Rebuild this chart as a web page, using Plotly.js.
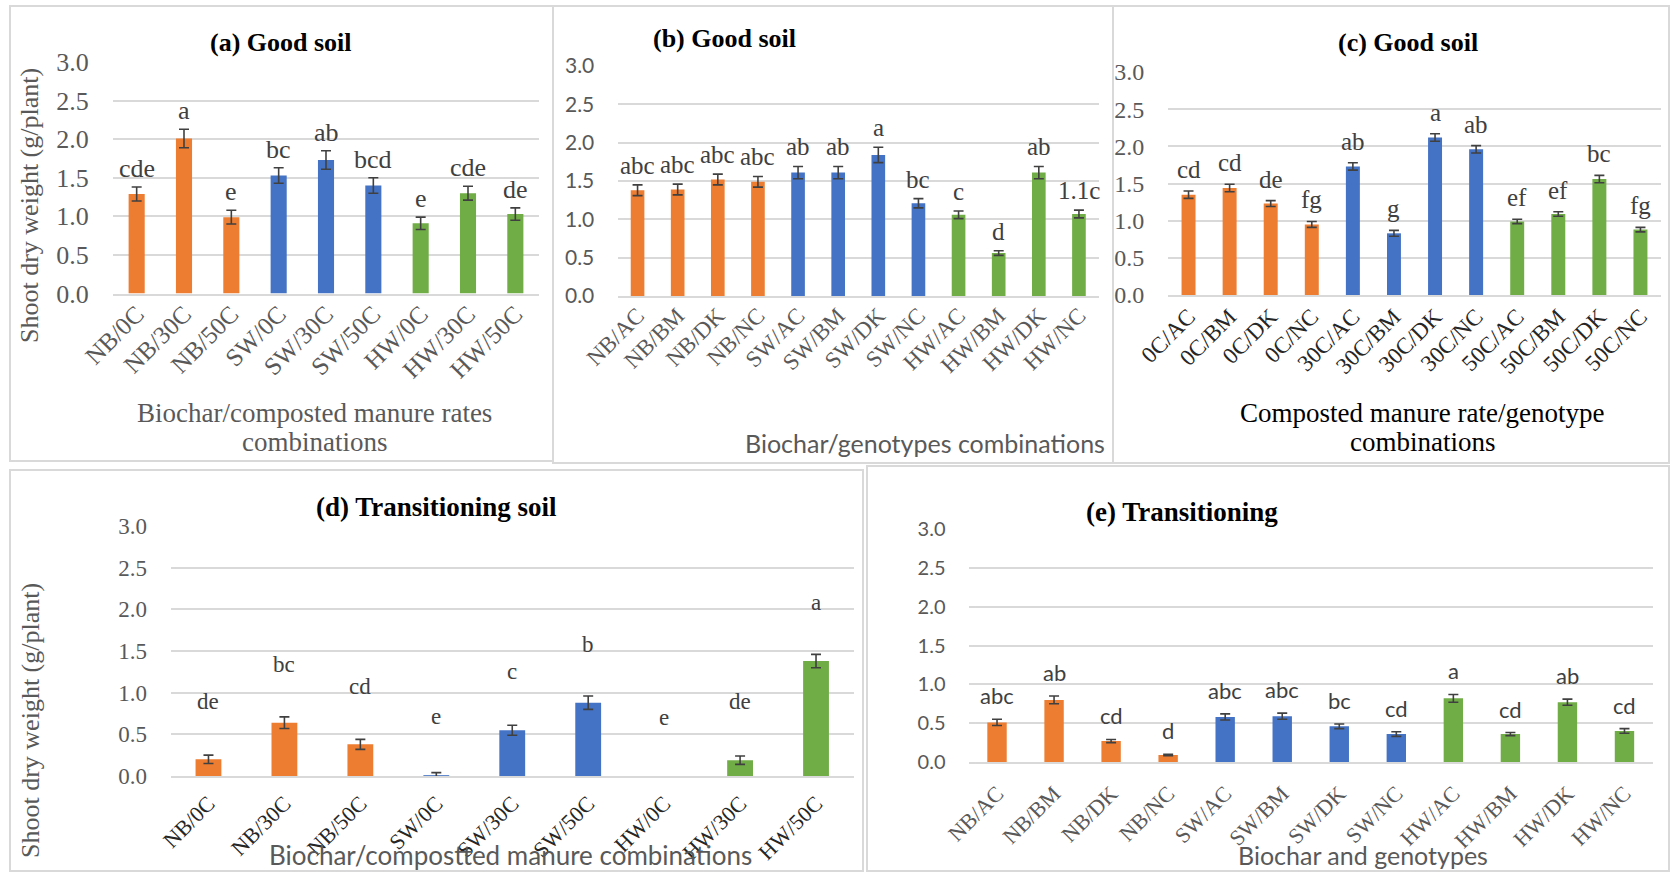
<!DOCTYPE html>
<html>
<head>
<meta charset="utf-8">
<script src="https://cdn.plot.ly/plotly-3.0.1.min.js"></script>
<style>html,body{margin:0;padding:0;background:#fff;}#chart{width:1670px;height:872px;}</style>
</head>
<body>
<div id="chart"></div>
<script>
// ---------- DATA ----------
const catsA = ['NB/0C','NB/30C','NB/50C','SW/0C','SW/30C','SW/50C','HW/0C','HW/30C','HW/50C'];
const valsA = [1.29,2.01,0.99,1.53,1.73,1.40,0.91,1.30,1.03];
const errA  = [0.09,0.12,0.09,0.10,0.12,0.10,0.08,0.09,0.08];
const letA  = ['cde','a','e','bc','ab','bcd','e','cde','de'];

const catsB = ['NB/AC','NB/BM','NB/DK','NB/NC','SW/AC','SW/BM','SW/DK','SW/NC','HW/AC','HW/BM','HW/DK','HW/NC'];
const valsB = [1.38,1.39,1.52,1.49,1.61,1.61,1.84,1.21,1.06,0.56,1.61,1.07];
const errB  = [0.07,0.07,0.07,0.07,0.08,0.08,0.10,0.06,0.05,0.03,0.08,0.05];
const letB  = ['abc','abc','abc','abc','ab','ab','a','bc','c','d','ab','1.1c'];

const catsC = ['0C/AC','0C/BM','0C/DK','0C/NC','30C/AC','30C/BM','30C/DK','30C/NC','50C/AC','50C/BM','50C/DK','50C/NC'];
const valsC = [1.35,1.44,1.23,0.95,1.73,0.83,2.12,1.96,0.99,1.09,1.56,0.88];
const errC  = [0.05,0.05,0.04,0.04,0.05,0.04,0.05,0.05,0.03,0.03,0.05,0.03];
const letC  = ['cd','cd','de','fg','ab','g','a','ab','ef','ef','bc','fg'];

const catsD = ['NB/0C','NB/30C','NB/50C','SW/0C','SW/30C','SW/50C','HW/0C','HW/30C','HW/50C'];
const valsD = [0.20,0.64,0.38,0.01,0.55,0.88,0,0.19,1.38];
const errD  = [0.05,0.07,0.06,0.03,0.06,0.08,NaN,0.05,0.08];
const letD  = ['de','bc','cd','e','c','b','e','de','a'];

const catsE = ['NB/AC','NB/BM','NB/DK','NB/NC','SW/AC','SW/BM','SW/DK','SW/NC','HW/AC','HW/BM','HW/DK','HW/NC'];
const valsE = [0.51,0.80,0.27,0.09,0.58,0.59,0.46,0.36,0.82,0.36,0.77,0.40];
const errE  = [0.04,0.05,0.02,0.01,0.04,0.04,0.03,0.03,0.05,0.02,0.04,0.03];
const letE  = ['abc','ab','cd','d','abc','abc','bc','cd','a','cd','ab','cd'];

const yTicks = [0,0.5,1.0,1.5,2.0,2.5,3.0];

// ---------- STYLE ----------
const W = 1670, H = 872;
const groupColors = ['#ED7D31','#4472C4','#70AD47'];
const SERIF = '"Liberation Serif","Times New Roman",serif';
const SANS = 'Lato,"Open Sans",sans-serif';
const GRID = '#d9d9d9';
const px = x => x / W;
const py = y => 1 - y / H;

const panels = [
  {id:'', cats:catsA, vals:valsA, err:errA, let:letA, x0:113, x1:539, yb:293.5, yt:62,
   xfont:{family:SERIF,size:25,color:'#595959'}, yfont:{family:SERIF,size:26,color:'#595959'},
   lfont:{family:SERIF,size:26,color:'#404040'}, lshift:2, xstand:-6},
  {id:'2', cats:catsB, vals:valsB, err:errB, let:letB, x0:617.5, x1:1099, yb:296, yt:66,
   xfont:{family:SERIF,size:23,color:'#595959'}, yfont:{family:SANS,size:21,color:'#595959'},
   lfont:{family:SERIF,size:25,color:'#404040'}, lshift:4, xstand:-5},
  {id:'3', cats:catsC, vals:valsC, err:errC, let:letC, x0:1168, x1:1661, yb:295, yt:72,
   xfont:{family:SERIF,size:23,color:'#262626'}, yfont:{family:SERIF,size:24,color:'#595959'},
   lfont:{family:SERIF,size:25,color:'#404040'}, lshift:6, xstand:-3},
  {id:'4', cats:catsD, vals:valsD, err:errD, let:letD, x0:170.5, x1:854, yb:776, yt:526,
   xfont:{family:SERIF,size:22,color:'#262626'}, yfont:{family:SERIF,size:23,color:'#595959'},
   lfont:{family:SERIF,size:23,color:'#404040'}, floatOffset:0.70, xstand:4},
  {id:'5', cats:catsE, vals:valsE, err:errE, let:letE, x0:968.5, x1:1653, yb:762, yt:529,
   xfont:{family:SERIF,size:22,color:'#595959'}, yfont:{family:SANS,size:20,color:'#595959'},
   lfont:{family:SANS,size:22,color:'#404040'}, lshift:8, xstand:8}
];

const data = [];
const layout = {
  width: W, height: H, margin:{l:0,r:0,t:0,b:0}, paper_bgcolor:'#fff', plot_bgcolor:'rgba(0,0,0,0)',
  showlegend:false, annotations:[], shapes:[]
};

panels.forEach(p => {
  const n = p.cats.length;
  const colors = p.cats.map((c,i) => groupColors[Math.floor(i / (n/3))]);
  data.push({
    type:'bar', x:p.cats, y:p.vals, xaxis:'x'+p.id, yaxis:'y'+p.id,
    marker:{color:colors, line:{width:0}}, width:0.34,
    error_y:{type:'data', array:p.err, visible:true, color:'#404040', thickness:1.6, width:5},
    hoverinfo:'x+y'
  });
  layout['xaxis'+p.id] = {
    domain:[px(p.x0), px(p.x1)], anchor:'y'+p.id, type:'category', range:[-0.5, n-0.5],
    showline:true, linecolor:GRID, linewidth:2, showgrid:false, zeroline:false,
    tickangle:-45, ticks:'', ticklabelstandoff:p.xstand,
    tickfont:p.xfont, fixedrange:true
  };
  layout['yaxis'+p.id] = {
    domain:[py(p.yb), py(p.yt)], anchor:'x'+p.id, range:[0, 3.001],
    tickvals:yTicks, ticktext:yTicks.map(v=>v.toFixed(1)),
    showgrid:true, gridcolor:GRID, gridwidth:2, zeroline:false, showline:false,
    ticks:'outside', ticklen:18, tickcolor:'rgba(0,0,0,0)', tickfont:p.yfont, fixedrange:true
  };
  p.cats.forEach((c,i) => {
    const e = isNaN(p.err[i]) ? 0 : p.err[i];
    if (p.floatOffset !== undefined) {
      layout.annotations.push({xref:'x'+p.id, yref:'y'+p.id, x:c, y:p.vals[i]+p.floatOffset,
        text:p.let[i], showarrow:false, yanchor:'middle', xanchor:'center', font:p.lfont});
    } else {
      layout.annotations.push({xref:'x'+p.id, yref:'y'+p.id, x:c, y:p.vals[i]+e,
        text:p.let[i], showarrow:false, yanchor:'bottom', xanchor:'center', yshift:p.lshift, font:p.lfont});
    }
  });
});

// panel borders
[[10,6,553,461],[553,6,1113,463],[1113,6,1669,463],[10,470,863,871],[867,466,1669,871]].forEach(b=>{
  layout.shapes.push({type:'rect', xref:'paper', yref:'paper', x0:px(b[0]), x1:px(b[2]), y0:py(b[3]), y1:py(b[1]),
    line:{color:GRID, width:2}, fillcolor:'rgba(0,0,0,0)'});
});

function ann(x,y,text,font,extra){
  layout.annotations.push(Object.assign({xref:'paper', yref:'paper', x:px(x), y:py(y), text:text,
    showarrow:false, xanchor:'center', yanchor:'middle', font:font}, extra||{}));
}
const titleFont = {family:SERIF, size:26, color:'#000'};
ann(281,43,'<b>(a) Good soil</b>',titleFont);
ann(724,39,'<b>(b) Good soil</b>',titleFont);
ann(1408,43,'<b>(c) Good soil</b>',titleFont);
ann(436,507,'<b>(d) Transitioning soil</b>',{family:SERIF, size:27, color:'#000'});
ann(1182,512,'<b>(e) Transitioning</b>',{family:SERIF, size:27, color:'#000'});

// y-axis titles
ann(30,206,'Shoot dry weight (g/plant)',{family:SERIF,size:26,color:'#595959'},{textangle:-90});
ann(30,721,'Shoot dry weight (g/plant)',{family:SERIF,size:26,color:'#595959'},{textangle:-90});

// x-axis titles
ann(314,413,'Biochar/composted manure rates',{family:SERIF,size:27,color:'#595959'});
ann(314,442,'combinations',{family:SERIF,size:27,color:'#595959'});
ann(925,443,'Biochar/genotypes combinations',{family:SANS,size:25,color:'#595959'});
ann(1422,413,'Composted manure rate/genotype',{family:SERIF,size:27,color:'#000'});
ann(1422,442,'combinations',{family:SERIF,size:27,color:'#000'});
ann(511,855,'Biochar/compostted manure combinations',{family:SANS,size:26,color:'#595959'});
ann(1363,855,'Biochar and genotypes',{family:SANS,size:25,color:'#595959'});

Plotly.newPlot('chart', data, layout, {staticPlot:true, displayModeBar:false});
</script>
</body>
</html>
